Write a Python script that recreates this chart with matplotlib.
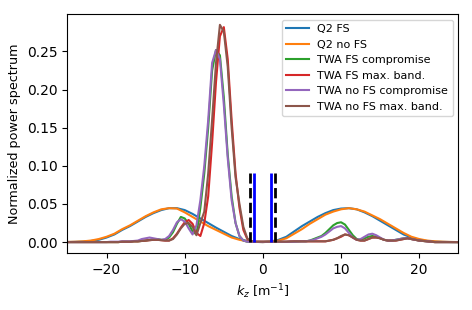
import numpy as np
import matplotlib
matplotlib.use("Agg")
from matplotlib import pyplot as plt

# Q2 spectra, sampled every 1 m^-1
kz_q2 = np.arange(-25, 26, 1)
q2_fs = [0.0001, 0.0003, 0.0007, 0.0015, 0.003, 0.006, 0.010, 0.016, 0.021, 0.027,
         0.033, 0.038, 0.042, 0.0445, 0.0445, 0.042, 0.037, 0.031, 0.025, 0.019,
         0.0135, 0.008, 0.004, 0.0015, 0.0003, 0.0,
         0.0008, 0.003, 0.007, 0.014, 0.021, 0.027, 0.033, 0.038, 0.042, 0.044,
         0.0445, 0.043, 0.039, 0.034, 0.028, 0.022, 0.016, 0.010, 0.006, 0.003,
         0.0015, 0.0006, 0.0003, 0.0001, 0.0]
q2_nofs = [0.0002, 0.0005, 0.001, 0.002, 0.004, 0.007, 0.011, 0.017, 0.022, 0.028,
           0.034, 0.039, 0.043, 0.0445, 0.044, 0.039, 0.033, 0.027, 0.021, 0.016,
           0.011, 0.006, 0.003, 0.001, 0.0003, 0.0,
           0.0005, 0.002, 0.005, 0.011, 0.017, 0.024, 0.030, 0.036, 0.040, 0.043,
           0.0445, 0.043, 0.040, 0.035, 0.030, 0.024, 0.018, 0.012, 0.007, 0.004,
           0.002, 0.001, 0.0005, 0.0002, 0.0]

# TWA spectra, sampled every 0.5 m^-1
kz_twa = np.arange(-25, 25.01, 0.5)
twa_fs_comp = [0.0, 0.0, 0.0, 0.0, 0.0, 0.0, 0.0, 0.0, 0.0, 0.0,          # -25 .. -20.5
               0.0, 0.0, 0.0, 0.0, 0.0005, 0.0005, 0.0005, 0.001, 0.001, 0.0015,  # -20 .. -15.5
               0.002, 0.003, 0.004, 0.004, 0.003, 0.003, 0.006, 0.013, 0.024, 0.033,  # -15 .. -10.5
               0.031, 0.024, 0.014, 0.010, 0.045, 0.09, 0.15, 0.225, 0.252, 0.245,  # -10 .. -5.5
               0.19, 0.115, 0.06, 0.025, 0.008, 0.002, 0.0005, 0.0003, 0.0003, 0.0003,  # -5 .. -0.5
               0.0003, 0.0003, 0.0003, 0.0003, 0.0003, 0.0003, 0.0003, 0.0005, 0.0005, 0.0008,  # 0 .. 4.5
               0.001, 0.001, 0.002, 0.004, 0.006, 0.008, 0.012, 0.017, 0.022, 0.025,  # 5 .. 9.5
               0.026, 0.023, 0.016, 0.009, 0.004, 0.003, 0.005, 0.007, 0.008, 0.007,  # 10 .. 14.5
               0.005, 0.003, 0.002, 0.002, 0.003, 0.004, 0.005, 0.005, 0.004, 0.003,  # 15 .. 19.5
               0.002, 0.0015, 0.001, 0.0005, 0.0, 0.0, 0.0, 0.0, 0.0, 0.0, 0.0]  # 20 .. 25
twa_fs_max = [0.0, 0.0, 0.0, 0.0, 0.0, 0.0, 0.0, 0.0, 0.0, 0.0,
              0.0, 0.0, 0.0, 0.0, 0.0005, 0.0005, 0.0005, 0.001, 0.001, 0.0015,
              0.002, 0.0025, 0.003, 0.003, 0.0025, 0.002, 0.002, 0.005, 0.011, 0.019,
              0.026, 0.029, 0.024, 0.012, 0.008, 0.025, 0.06, 0.13, 0.21, 0.27,
              0.282, 0.24, 0.16, 0.09, 0.045, 0.016, 0.004, 0.001, 0.0005, 0.0005,
              0.0005, 0.0005, 0.0005, 0.0005, 0.0005, 0.0005, 0.0005, 0.0008, 0.001, 0.001,
              0.001, 0.001, 0.001, 0.001, 0.001, 0.001, 0.001, 0.002, 0.003, 0.005,
              0.007, 0.010, 0.009, 0.006, 0.003, 0.002, 0.002, 0.004, 0.006, 0.006,
              0.005, 0.003, 0.002, 0.002, 0.002, 0.003, 0.004, 0.005, 0.004, 0.003,
              0.002, 0.0015, 0.001, 0.0005, 0.0, 0.0, 0.0, 0.0, 0.0, 0.0, 0.0]
twa_nofs_comp = [0.0, 0.0, 0.0, 0.0, 0.0, 0.0, 0.0, 0.0, 0.0, 0.0,
                 0.0, 0.0005, 0.0005, 0.0005, 0.001, 0.001, 0.001, 0.0015, 0.002, 0.004,
                 0.005, 0.006, 0.005, 0.004, 0.003, 0.004, 0.008, 0.016, 0.026, 0.030,
                 0.027, 0.018, 0.010, 0.022, 0.055, 0.10, 0.16, 0.235, 0.252, 0.24,
                 0.18, 0.11, 0.055, 0.025, 0.008, 0.002, 0.0005, 0.0003, 0.0003, 0.0003,
                 0.0003, 0.0003, 0.0003, 0.0003, 0.0003, 0.0003, 0.0003, 0.0005, 0.0005, 0.0008,
                 0.001, 0.001, 0.002, 0.003, 0.005, 0.007, 0.010, 0.014, 0.018, 0.020,
                 0.021, 0.018, 0.012, 0.006, 0.003, 0.004, 0.007, 0.010, 0.011, 0.009,
                 0.006, 0.003, 0.002, 0.002, 0.003, 0.004, 0.005, 0.005, 0.004, 0.003,
                 0.002, 0.0015, 0.001, 0.0005, 0.0, 0.0, 0.0, 0.0, 0.0, 0.0, 0.0]
twa_nofs_max = [0.0, 0.0, 0.0, 0.0, 0.0, 0.0, 0.0, 0.0, 0.0, 0.0,
                0.0, 0.0, 0.0, 0.0, 0.0005, 0.0005, 0.0005, 0.001, 0.001, 0.0015,
                0.002, 0.0025, 0.003, 0.003, 0.0025, 0.002, 0.002, 0.004, 0.010, 0.018,
                0.024, 0.025, 0.020, 0.009, 0.025, 0.04, 0.09, 0.16, 0.235, 0.285,
                0.276, 0.23, 0.15, 0.085, 0.05, 0.02, 0.005, 0.001, 0.0005, 0.0005,
                0.0005, 0.0005, 0.0005, 0.0005, 0.0005, 0.0005, 0.0005, 0.0008, 0.001, 0.001,
                0.001, 0.001, 0.001, 0.001, 0.001, 0.001, 0.001, 0.002, 0.003, 0.005,
                0.008, 0.010, 0.009, 0.006, 0.003, 0.002, 0.002, 0.004, 0.006, 0.006,
                0.005, 0.003, 0.002, 0.002, 0.002, 0.003, 0.004, 0.005, 0.004, 0.003,
                0.002, 0.0015, 0.001, 0.0005, 0.0, 0.0, 0.0, 0.0, 0.0, 0.0, 0.0]

band_inner = [-1.2, 1.0]
band_outer = [-1.7, 1.6]
band_top = 0.09

fig = plt.figure(figsize=(4.72, 3.10), dpi=100)
ax = fig.add_subplot(111)
ax.plot(kz_q2, q2_fs, label="Q2 FS")
ax.plot(kz_q2, q2_nofs, label="Q2 no FS")
ax.plot(kz_twa, twa_fs_comp, label="TWA FS compromise")
ax.plot(kz_twa, twa_fs_max, label="TWA FS max. band.")
ax.plot(kz_twa, twa_nofs_comp, label="TWA no FS compromise")
ax.plot(kz_twa, twa_nofs_max, label="TWA no FS max. band.")
ax.vlines(band_inner, 0, band_top, colors="b", linewidth=2)
ax.vlines(band_outer, 0, band_top, colors="k", linestyles="--", linewidth=2)
ax.set_xlim(-25, 25)
ax.set_xlabel("$k_z$ [m$^{-1}$]", fontsize=9.2)
ax.set_ylabel("Normalized power spectrum", fontsize=9.2)
ax.legend(loc="upper right", fontsize=8)
fig.subplots_adjust(left=0.143, right=0.971, top=0.955, bottom=0.184)
fig.savefig("out.png")
